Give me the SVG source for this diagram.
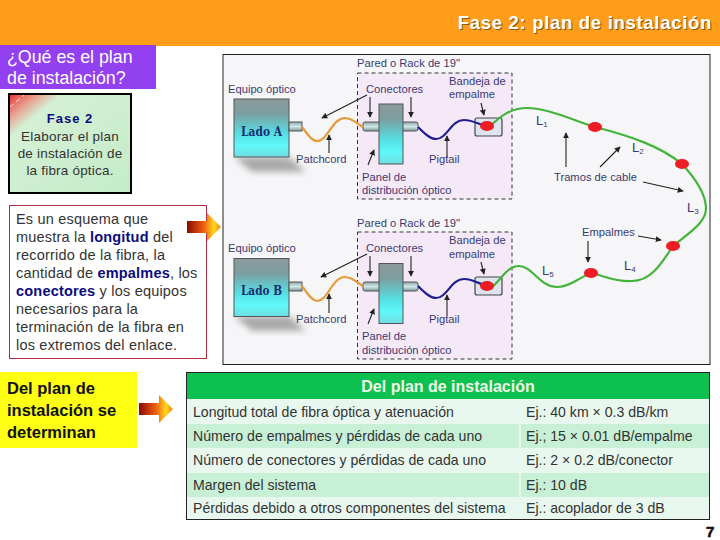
<svg xmlns="http://www.w3.org/2000/svg" xmlns:xlink="http://www.w3.org/1999/xlink" width="720" height="540" viewBox="0 0 720 540">
<style>
text{font-family:"Liberation Sans",Arial,sans-serif}
.lb{font-size:11.2px;fill:#3a3a70}
.ll{font-size:13px;fill:#3a3a70}
.sub{font-size:8px}
.an{fill:none;stroke:#222;stroke-width:1.1;marker-end:url(#ah)}
.body{font-size:14.5px;fill:#333;letter-spacing:.2px}
.em{font-weight:bold;fill:#0b0b80}
.tb{font-size:14.1px;fill:#333}
.y{font-size:16.5px;font-weight:bold;fill:#111}
.ph{font-size:17.8px;fill:#fff}
.fase{font-size:13.5px;fill:#333;letter-spacing:.2px}
.lado{font-family:"DejaVu Serif",serif;font-size:13px;font-weight:bold;fill:#1c2c70}
.box{stroke:#555;stroke-width:1}
.dash{fill:#f5e9f8;stroke:#333;stroke-width:1;stroke-dasharray:4 3}
.spl{fill:#ee1c25}
.green{fill:none;stroke:#42b43a;stroke-width:2.2}
.pig{fill:none;stroke:#1e1e90;stroke-width:2.2}
.pc{fill:none;stroke:#e89a3a;stroke-width:2.2}
.tray{fill:#dde4ee;stroke:#444;stroke-width:1.2}
</style>
<defs>
<linearGradient id="eq" x1="0" y1="0" x2="0" y2="1"><stop offset="0" stop-color="#8c9a9c"/><stop offset=".25" stop-color="#7c9ea0"/><stop offset=".6" stop-color="#55e0e4"/><stop offset=".8" stop-color="#60f8fa"/><stop offset="1" stop-color="#6fdde0"/></linearGradient>
<linearGradient id="cn" x1="0" y1="0" x2="0" y2="1"><stop offset="0" stop-color="#8ea6a6"/><stop offset=".5" stop-color="#d0e8e8"/><stop offset="1" stop-color="#7f9898"/></linearGradient>
<linearGradient id="arw" x1="0" y1="0" x2="1" y2="0"><stop offset="0" stop-color="#8a0a00"/><stop offset=".5" stop-color="#f06010"/><stop offset=".8" stop-color="#ffd820"/><stop offset="1" stop-color="#f08010"/></linearGradient>
<linearGradient id="fase" x1="0" y1="0" x2="1" y2="1"><stop offset="0" stop-color="#e83030"/><stop offset=".12" stop-color="#e8a090"/><stop offset=".22" stop-color="#d4f0d4"/><stop offset="1" stop-color="#c4ecc8"/></linearGradient>
<filter id="bl" x="-30%" y="-30%" width="160%" height="160%"><feGaussianBlur stdDeviation="3"/></filter>
<marker id="ah" viewBox="0 0 8 8" refX="7" refY="4" markerWidth="6" markerHeight="6" orient="auto" markerUnits="userSpaceOnUse"><path d="M0 0L8 4L0 8z" fill="#222"/></marker>
<path id="bigarrow" d="M0 8H20V0L34 14L20 28V20H0z" fill="url(#arw)"/>
</defs>
<rect width="720" height="540" fill="#fff"/>
<g id="header">
<rect width="720" height="46" fill="#ff9d1a"/>
<text x="713" y="30" text-anchor="end" font-size="18.5" font-weight="bold" letter-spacing=".7" fill="#8a5a10">Fase 2: plan de instalación</text>
<text x="712" y="29" text-anchor="end" font-size="18.5" font-weight="bold" letter-spacing=".7" fill="#fff">Fase 2: plan de instalación</text>
</g>
<g id="question">
<rect y="45" width="156" height="44" fill="#9340f0"/>
<text class="ph" x="7" y="63">¿Qué es el plan</text>
<text class="ph" x="7" y="84">de instalación?</text>
</g>
<g id="fase2">
<rect x="9" y="94" width="122" height="99" fill="url(#fase)" stroke="#000" stroke-width="2"/>
<path d="M10 107L24 95" stroke="#fff" stroke-width=".8" stroke-dasharray="5 3" fill="none"/>
<text x="70" y="123" text-anchor="middle" font-size="13" font-weight="bold" fill="#0b0b80" letter-spacing="1">Fase 2</text>
<text class="fase" x="70" y="141" text-anchor="middle">Elaborar el plan</text>
<text class="fase" x="70" y="158" text-anchor="middle">de instalación de</text>
<text class="fase" x="70" y="175" text-anchor="middle">la fibra óptica.</text>
</g>
<g id="descripcion">
<rect x="9.500" y="205.500" width="197" height="153" fill="#fff" stroke="#b03040"/>
<text class="body" x="16" y="224">Es un esquema que</text>
<text class="body" x="16" y="242">muestra la <tspan class="em">longitud</tspan> del</text>
<text class="body" x="16" y="260">recorrido de la fibra, la</text>
<text class="body" x="16" y="278">cantidad de <tspan class="em">empalmes</tspan>, los</text>
<text class="body" x="16" y="296"><tspan class="em">conectores</tspan> y  los equipos</text>
<text class="body" x="16" y="314">necesarios para la</text>
<text class="body" x="16" y="332">terminación de la fibra en</text>
<text class="body" x="16" y="350">los extremos del enlace.</text>
</g>
<use id="flecha1" xlink:href="#bigarrow" href="#bigarrow" x="187" y="213"/>
<g id="determinan">
<rect y="372" width="137" height="76" fill="#ffff14"/>
<text class="y" x="7" y="394">Del plan de</text>
<text class="y" x="7" y="416">instalación se</text>
<text class="y" x="7" y="438">determinan</text>
</g>
<use id="flecha2" xlink:href="#bigarrow" href="#bigarrow" x="139" y="395"/>

<g id="esquema">
<rect x="223" y="54.500" width="487" height="310" fill="#f6f6f8" stroke="#222" stroke-width="1"/>
<rect class="dash" x="357.500" y="73" width="154.500" height="126"/>
<rect class="dash" x="357.500" y="232" width="154.500" height="127"/>
</g>

<g id="ladoA">
<path d="M234 157L289 157L306 172L252 172z" fill="#8a8a8a" opacity=".7" filter="url(#bl)"/>
<rect class="box" x="234" y="99" width="55" height="58" fill="url(#eq)"/>
<text class="lado" x="241" y="136" textLength="41" lengthAdjust="spacingAndGlyphs">Lado A</text>
<rect class="box" x="289" y="122" width="13" height="9" fill="url(#cn)"/>
</g>
<g id="panelA">
<rect class="box" x="363" y="122" width="55" height="9" rx="2" fill="url(#cn)"/>
<rect class="box" x="379" y="104" width="24" height="60" fill="url(#eq)"/>
</g>
<g id="bandejaA"><rect class="tray" x="475" y="118" width="27" height="18" rx="2"/></g>

<g id="ladoB">
<path d="M234 316L289 316L306 331L252 331z" fill="#8a8a8a" opacity=".7" filter="url(#bl)"/>
<rect class="box" x="234" y="258.500" width="55" height="58" fill="url(#eq)"/>
<text class="lado" x="241" y="295" textLength="41" lengthAdjust="spacingAndGlyphs">Lado B</text>
<rect class="box" x="289" y="282" width="13" height="9" fill="url(#cn)"/>
</g>
<g id="panelB">
<rect class="box" x="363" y="282" width="55" height="9" rx="2" fill="url(#cn)"/>
<rect class="box" x="379" y="263.500" width="24" height="60" fill="url(#eq)"/>
</g>
<g id="bandejaB"><rect class="tray" x="475" y="277" width="27" height="18" rx="2"/></g>

<g id="conectores">
<path class="pc" d="M302 127C308 135 312 141 317 141C328 141 332 118 345 118C352 118 358 124 363 127"/>
<path class="pc" d="M302 286C308 294 312 301 317 301C328 301 332 277 345 277C352 277 358 283 363 286"/>
<path class="pig" d="M418 127C424 133 430 139 436 139C447 139 451 120 464 120C472 120 478 124 486 126"/>
<path class="pig" d="M418 286C424 292 430 298 436 298C447 298 451 279 464 279C472 279 478 283 486 286"/>
<path class="green" d="M490 126C500 117 510 108 527 108C548 108 575 121 595 127C630 136 660 146 682 164C695 178 705 192 706 207C707 222 690 232 673 246C660 266 650 281 632 281C615 282 605 276 591 273C580 277 570 287 557 287C540 287 532 266 519 266C507 266 501 280 493 286"/>
<path class="an" d="M367 95L322 118"/>
<path class="an" d="M370 97V117"/>
<path class="an" d="M411 97V117"/>
<path class="an" d="M481 103L484 115"/>
<path class="an" d="M329 153V135"/>
<path class="an" d="M368 165L374 150"/>
<path class="an" d="M447 157V136"/>
<path class="an" d="M367 254L321 277"/>
<path class="an" d="M370 256V276"/>
<path class="an" d="M411 256V276"/>
<path class="an" d="M481 262L484 274"/>
<path class="an" d="M329 313V294"/>
<path class="an" d="M368 324L374 309"/>
<path class="an" d="M447 316V295"/>
<path class="an" d="M566 167V133"/>
<path class="an" d="M600 167L620 147"/>
<path class="an" d="M643 182L683 191"/>
<path class="an" d="M588 241V262"/>
<path class="an" d="M638 236L661 240"/>
</g>

<g id="empalmes">
<ellipse class="spl" cx="487" cy="126" rx="7" ry="5"/>
<ellipse class="spl" cx="595" cy="127" rx="7" ry="5"/>
<ellipse class="spl" cx="682" cy="164" rx="7" ry="5"/>
<ellipse class="spl" cx="673" cy="246" rx="7" ry="5"/>
<ellipse class="spl" cx="591" cy="273" rx="7" ry="5"/>
<ellipse class="spl" cx="487" cy="286" rx="7" ry="5"/>
</g>

<g id="etiquetas">
<text class="lb" x="357" y="67">Pared o Rack de 19"</text>
<text class="lb" x="228" y="93">Equipo óptico</text>
<text class="lb" x="366" y="93">Conectores</text>
<text class="lb" x="449" y="85">Bandeja de</text>
<text class="lb" x="449" y="98">empalme</text>
<text class="lb" x="296" y="163">Patchcord</text>
<text class="lb" x="429" y="163">Pigtail</text>
<text class="lb" x="362" y="181">Panel de</text>
<text class="lb" x="362" y="194">distribución óptico</text>
<text class="lb" x="357" y="227">Pared o Rack de 19"</text>
<text class="lb" x="228" y="252">Equipo óptico</text>
<text class="lb" x="366" y="252">Conectores</text>
<text class="lb" x="449" y="244">Bandeja de</text>
<text class="lb" x="449" y="258">empalme</text>
<text class="lb" x="296" y="323">Patchcord</text>
<text class="lb" x="429" y="323">Pigtail</text>
<text class="lb" x="362" y="340">Panel de</text>
<text class="lb" x="362" y="354">distribución óptico</text>
<text class="lb" x="554" y="181">Tramos de cable</text>
<text class="lb" x="582" y="236">Empalmes</text>
<text class="ll" x="536" y="125">L<tspan class="sub" dy="2">1</tspan></text>
<text class="ll" x="632" y="152">L<tspan class="sub" dy="2">2</tspan></text>
<text class="ll" x="687" y="212">L<tspan class="sub" dy="2">3</tspan></text>
<text class="ll" x="624" y="270">L<tspan class="sub" dy="2">4</tspan></text>
<text class="ll" x="542" y="275">L<tspan class="sub" dy="2">5</tspan></text>
</g>

<g id="tabla">
<rect x="186.500" y="372.500" width="523" height="147" fill="#e9f8ef" stroke="#222"/>
<rect x="187" y="373" width="522" height="26" fill="#0ec050"/>
<rect x="187" y="424" width="332" height="24" fill="#c8f0d6"/>
<rect x="521" y="424" width="188" height="24" fill="#c8f0d6"/>
<rect x="187" y="473" width="332" height="24" fill="#c8f0d6"/>
<rect x="521" y="473" width="188" height="24" fill="#c8f0d6"/>
<text x="448" y="392" text-anchor="middle" font-size="16" font-weight="bold" fill="#f0f8e8">Del plan de instalación</text>
<text class="tb" x="193" y="417">Longitud total de fibra óptica y atenuación</text>
<text class="tb" x="526" y="417">Ej.: 40 km × 0.3 dB/km</text>
<text class="tb" x="193" y="441">Número de empalmes y pérdidas de cada uno</text>
<text class="tb" x="526" y="441">Ej.; 15 × 0.01 dB/empalme</text>
<text class="tb" x="193" y="465">Número de conectores y pérdidas de cada uno</text>
<text class="tb" x="526" y="465">Ej.: 2 × 0.2 dB/conector</text>
<text class="tb" x="193" y="490">Margen del sistema</text>
<text class="tb" x="526" y="490">Ej.: 10 dB</text>
<text class="tb" x="193" y="513">Pérdidas debido a otros componentes del sistema</text>
<text class="tb" x="526" y="513">Ej.: acoplador de 3 dB</text>
</g>
<text id="pagina" x="706" y="536.500" font-size="15" font-weight="bold" fill="#111" stroke="#111" stroke-width=".6">7</text>
</svg>
